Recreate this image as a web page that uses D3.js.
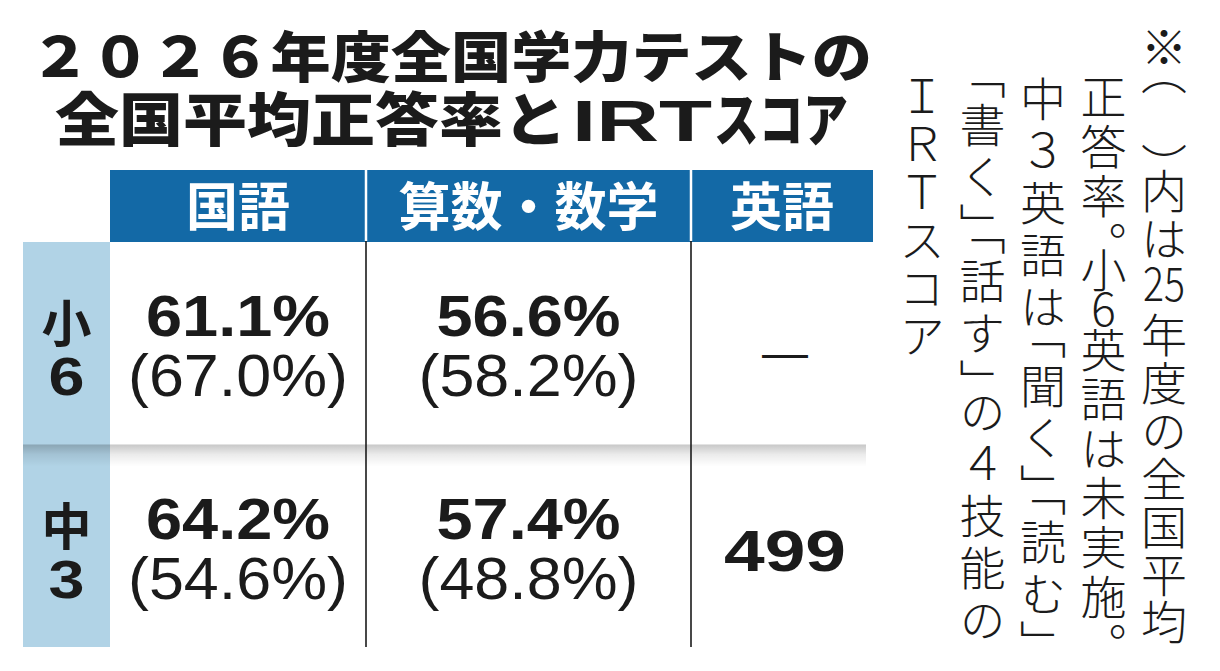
<!DOCTYPE html>
<html>
<head>
<meta charset="utf-8">
<script src="https://cdn.jsdelivr.net/npm/d3@7"></script>
<style>
  html, body { margin: 0; background: #fff; }
  svg { display: block; }
</style>
</head>
<body>
<div id="chart"></div>
<script>
const titleLines = ["２０２６年度全国学力テストの", "全国平均正答率とIRTスコア"];
const subjects = ["国語", "算数・数学", "英語"];
const grades = ["小6", "中3"];
const rate2026 = [[61.1, 56.6], [64.2, 57.4]];   // 国語, 算数・数学
const rate2025 = [[67.0, 58.2], [54.6, 48.8]];   // shown in ( )
const englishIRT = [null, 499];                   // 小6 not conducted
const noteLines = [
  "※（　）内は25年度の全国平均",
  "正答率。小6英語は未実施。",
  "中３英語は「聞く」「読む」",
  "「書く」「話す」の４技能の",
  "ＩＲＴスコア"
];

// ---- layout ----
const W = 1220, H = 671;
const jp = '"Noto Sans CJK JP", "Noto Sans CJK SC", sans-serif';
const num = '"Liberation Sans", Arial, sans-serif';
const blue = "#1369a6", paleBlue = "#b1d3e6", ink = "#1b1b1b";
const colEdges = [110, 366, 691, 873];
const headTop = 170, headBottom = 241, tableBottom = 647;

const svg = d3.select("#chart").append("svg")
    .attr("width", W)
    .attr("height", H);

const defs = svg.append("defs");
const grad = defs.append("linearGradient")
    .attr("id", "rowShade")
    .attr("x1", 0).attr("y1", 0).attr("x2", 0).attr("y2", 1);
grad.append("stop").attr("offset", 0).attr("stop-color", "#000").attr("stop-opacity", 0.22);
grad.append("stop").attr("offset", 0.45).attr("stop-color", "#000").attr("stop-opacity", 0.08);
grad.append("stop").attr("offset", 1).attr("stop-color", "#000").attr("stop-opacity", 0);

// Title
svg.append("text")
    .attr("x", 30)
    .attr("y", 77)
    .attr("font-family", jp)
    .attr("font-weight", 900)
    .attr("font-size", 55)
    .attr("fill", ink)
    .attr("textLength", 842)
    .attr("lengthAdjust", "spacingAndGlyphs")
    .text(titleLines[0]);

// second line: kanji run, latin run, kana run
const line2Parts = titleLines[1].match(/[A-Z]+|[^A-Z]+/g);
const line2Boxes = [[55, 512], [572, 140], [714, 134]];
const t2 = svg.append("text")
    .attr("y", 141)
    .attr("font-family", jp)
    .attr("font-weight", 900)
    .attr("font-size", 58)
    .attr("fill", ink);
t2.selectAll("tspan")
  .data(line2Parts)
  .enter().append("tspan")
    .attr("x", (d, i) => line2Boxes[i][0])
    .attr("textLength", (d, i) => line2Boxes[i][1])
    .attr("lengthAdjust", "spacingAndGlyphs")
    .attr("font-family", d => /[A-Z]/.test(d) ? num : jp)
    .text(d => d);

// Scales
const x = d3.scaleOrdinal()
    .domain(subjects)
    .range(subjects.map((d, i) => (colEdges[i] + colEdges[i + 1]) / 2));
const y = d3.scaleBand()
    .domain(grades)
    .range([headBottom + 1, tableBottom]);

// Header band
svg.append("rect")
    .attr("x", colEdges[0])
    .attr("y", headTop)
    .attr("width", colEdges[colEdges.length - 1] - colEdges[0])
    .attr("height", headBottom - headTop + 1)
    .attr("fill", blue);

svg.selectAll(".head")
  .data(subjects)
  .enter().append("text")
    .attr("class", "head")
    .attr("x", d => x(d))
    .attr("y", 226)
    .attr("text-anchor", "middle")
    .attr("font-family", jp)
    .attr("font-weight", 700)
    .attr("font-size", 52)
    .attr("fill", "#fff")
    .text(d => d);

// Row header column
svg.append("rect")
    .attr("x", 23)
    .attr("y", y.range()[0])
    .attr("width", colEdges[0] - 23)
    .attr("height", y.range()[1] - y.range()[0])
    .attr("fill", paleBlue);

// shade under the row divider
svg.selectAll(".shade")
  .data(grades.slice(1))
  .enter().append("rect")
    .attr("class", "shade")
    .attr("x", 23)
    .attr("y", d => y(d))
    .attr("width", 866 - 23)
    .attr("height", 22)
    .attr("fill", "url(#rowShade)");

// column rules
const inner = colEdges.slice(1, -1);
svg.selectAll(".headRule")
  .data(inner)
  .enter().append("line")
    .attr("x1", d => d).attr("x2", d => d)
    .attr("y1", headTop).attr("y2", headBottom)
    .attr("stroke", "#fff")
    .attr("stroke-width", 2.5);
svg.selectAll(".bodyRule")
  .data(inner)
  .enter().append("line")
    .attr("x1", d => d).attr("x2", d => d)
    .attr("y1", headBottom).attr("y2", tableBottom)
    .attr("stroke", ink)
    .attr("stroke-width", 1.6);

// Row labels (小 / 6, 中 / 3)
const rowLab = svg.selectAll(".rowLab")
  .data(grades)
  .enter().append("g")
    .attr("class", "rowLab");
rowLab.append("text")
    .attr("x", 66.5)
    .attr("y", d => y(d) + 100)
    .attr("text-anchor", "middle")
    .attr("font-family", jp)
    .attr("font-weight", 700)
    .attr("font-size", 50)
    .attr("fill", ink)
    .text(d => d[0]);
rowLab.append("text")
    .attr("x", 66.5)
    .attr("y", d => y(d) + 153)
    .attr("text-anchor", "middle")
    .attr("font-family", num)
    .attr("font-weight", 700)
    .attr("font-size", 53)
    .attr("fill", ink)
    .attr("textLength", 36)
    .attr("lengthAdjust", "spacingAndGlyphs")
    .text(d => d.slice(1));

// Percentage cells
const fmt = d3.format(".1f");
const cells = [];
grades.forEach((g, i) => {
  rate2026[i].forEach((v, j) => {
    cells.push({ grade: g, subject: subjects[j], now: v, prev: rate2025[i][j] });
  });
});

const cell = svg.selectAll(".cell")
  .data(cells)
  .enter().append("g")
    .attr("class", "cell");
cell.append("text")
    .attr("x", d => x(d.subject))
    .attr("y", d => y(d.grade) + 94)
    .attr("text-anchor", "middle")
    .attr("font-family", num)
    .attr("font-weight", 700)
    .attr("font-size", 58)
    .attr("fill", ink)
    .attr("textLength", 184)
    .attr("lengthAdjust", "spacingAndGlyphs")
    .text(d => fmt(d.now) + "%");
cell.append("text")
    .attr("x", d => x(d.subject))
    .attr("y", d => y(d.grade) + 154)
    .attr("text-anchor", "middle")
    .attr("font-family", num)
    .attr("font-weight", 400)
    .attr("font-size", 60)
    .attr("fill", ink)
    .attr("textLength", 220)
    .attr("lengthAdjust", "spacingAndGlyphs")
    .text(d => "(" + fmt(d.prev) + "%)");

// English column: dash where not conducted, IRT score otherwise
svg.selectAll(".eng")
  .data(grades.map((g, i) => ({ grade: g, score: englishIRT[i] })))
  .enter().append("text")
    .attr("class", "eng")
    .attr("x", x(subjects[2]) + 3)
    .attr("y", d => y(d.grade) + 126)
    .attr("text-anchor", "middle")
    .attr("font-family", num)
    .attr("font-weight", d => d.score == null ? 400 : 700)
    .attr("font-size", d => d.score == null ? 46 : 58)
    .attr("fill", ink)
    .attr("textLength", d => d.score == null ? 46 : 122)
    .attr("lengthAdjust", "spacingAndGlyphs")
    .text(d => d.score == null ? "—" : d.score);

// Vertical note on the right (tategaki). Runs of kana/kanji are set with
// writing-mode vertical-rl, digits are set horizontally inside one cell.
const noteFs = 46;
const halfW = new Set(["（", "）", "「", "」", "。"]);
const opening = new Set(["（", "「"]);
const advance = u => halfW.has(u) ? 0.5 : (/^[0-9]$/.test(u) ? 0.6 : 1);
const isDigits = u => /^[0-9]+$/.test(u);

const noteG = svg.append("g")
    .attr("font-family", jp)
    .attr("font-weight", 300)
    .attr("font-size", noteFs)
    .attr("fill", ink);

noteLines.forEach((line, k) => {
  const units = line.match(/[0-9]+|./gu);
  const total = d3.sum(units, advance);
  const top = k === 0 ? 23 : 72;
  const last = k === noteLines.length - 1;
  const step = last ? 48 : (646 - top) / total;
  const cx = 1164 - k * 60.5;

  // place every cell and work out where its em box starts
  let pos = top;
  const placed = units.map(u => {
    const h = advance(u) * step;
    let emTop;
    if (halfW.has(u)) emTop = opening.has(u) ? pos + h - noteFs : pos;
    else emTop = pos + (h - noteFs) / 2;
    const p = { u, top: pos, h, emTop };
    pos += h;
    return p;
  });

  // split into runs
  const runs = [];
  placed.forEach(p => {
    const kind = isDigits(p.u) ? "num" : "jp";
    const lastRun = runs[runs.length - 1];
    if (kind === "jp" && lastRun && lastRun.kind === "jp") lastRun.items.push(p);
    else runs.push({ kind, items: [p] });
  });

  const lineG = noteG.append("g").attr("class", "noteLine");
  runs.forEach(r => {
    if (r.kind === "num") {
      const p = r.items[0];
      lineG.append("text")
          .attr("x", cx)
          .attr("y", p.u.length > 1 ? p.top + 38 : p.top + p.h / 2 + 16.5)
          .attr("text-anchor", "middle")
          .attr("textLength", p.u.length > 1 ? 42 : null)
          .attr("lengthAdjust", "spacingAndGlyphs")
          .text(p.u);
    } else {
      lineG.append("text")
          .style("writing-mode", "vertical-rl")
          .attr("x", cx)
          .attr("y", r.items.map(p => p.emTop.toFixed(1)).join(" "))
          .text(r.items.map(p => p.u).join(""));
    }
  });
});
</script>
</body>
</html>
